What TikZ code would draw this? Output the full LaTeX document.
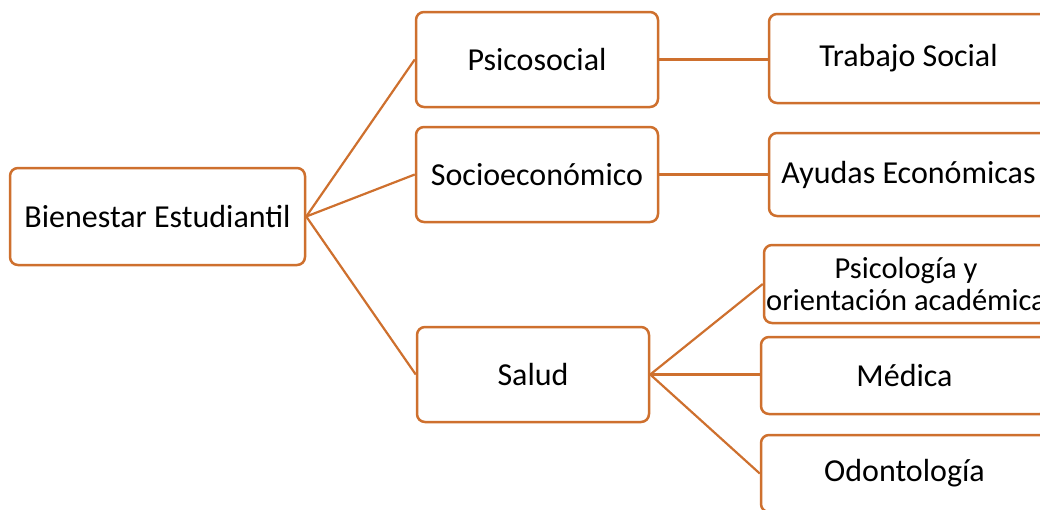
\documentclass[tikz,border=0pt]{standalone}
\usepackage{fontspec}
\setmainfont{Carlito}
\definecolor{edgeor}{RGB}{206,112,46}
\begin{document}
\begin{tikzpicture}[x=1pt,y=-1pt,
  box/.style={draw=edgeor, line width=2.5pt, rounded corners=8pt, fill=white, inner sep=0pt, font=\fontsize{32}{33}\selectfont, align=center},
  link/.style={draw=edgeor, line width=2.2pt}]
\useasboundingbox (0,0) rectangle (1040,509);
\node[box, minimum width=295pt, minimum height=97pt] (b) at (157.5,216.5) {Bienestar Estudiantil};
\node[box, minimum width=242pt, minimum height=95pt] (p) at (537,59.5) {Psicosocial};
\node[box, minimum width=242pt, minimum height=95pt] (s) at (537,174.5) {Socioeconómico};
\node[box, minimum width=232pt, minimum height=95pt] (h) at (533,374.5) {Salud};
\node[box, minimum width=279pt, minimum height=89pt] (t) at (908.5,58.5) {Trabajo Social};
\node[box, minimum width=279pt, minimum height=83pt] (a) at (908.5,174.5) {Ayudas Económicas};
\node[box, minimum width=284pt, minimum height=78pt, font=\fontsize{30.5}{32}\selectfont] (ps) at (906,284) {Psicología y\\orientación académica};
\node[box, minimum width=287pt, minimum height=77pt] (m) at (904.5,375.5) {Médica};
\node[box, minimum width=287pt, minimum height=77pt] (o) at (904.5,473.5) {Odontología};
\draw[link] (b.east) -- (p.west);
\draw[link] (b.east) -- (s.west);
\draw[link] (b.east) -- (h.west);
\draw[link] (p.east) -- (p.east -| t.west);
\draw[link] (s.east) -- (s.east -| a.west);
\draw[link] (h.east) -- (ps.west);
\draw[link] (h.east) -- (h.east -| m.west);
\draw[link] (h.east) -- (o.west);
\end{tikzpicture}
\end{document}
